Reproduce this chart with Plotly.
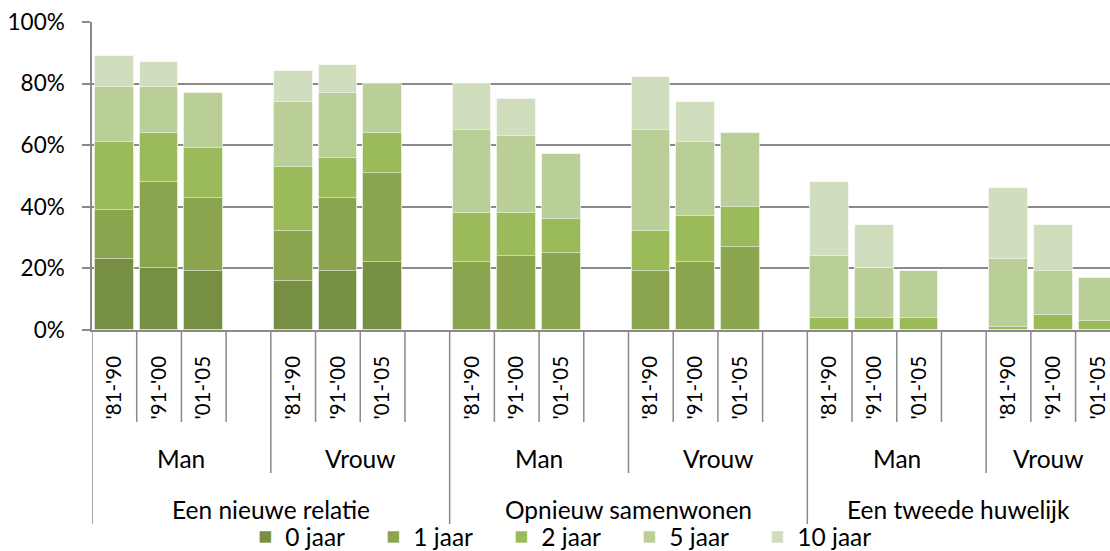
import plotly.graph_objects as go

# categorieen
groepen = ["Een nieuwe relatie", "Opnieuw samenwonen", "Een tweede huwelijk"]
geslacht = ["Man", "Vrouw"]
perioden = ["'81-'90", "'91-'00", "'01-'05"]

# cumulatieve percentages per bar (groep x geslacht x periode)
jaar0 = [23, 20, 19, 16, 19, 22,
         None, None, None, None, None, None,
         None, None, None, None, None, None]
jaar1 = [39, 48, 43, 32, 43, 51,
         22, 24, 25, 19, 22, 27,
         None, None, None, None, None, None]
jaar2 = [61, 64, 59, 53, 56, 64,
         38, 38, 36, 32, 37, 40,
         4, 4, 4, 1, 5, 3]
jaar5 = [79, 79, 77, 74, 77, 80,
         65, 63, 57, 65, 61, 64,
         24, 20, 19, 23, 19, 17]
jaar10 = [89, 87, None, 84, 86, None,
          80, 75, None, 82, 74, None,
          48, 34, None, 46, 34, None]

reeksen = [("10 jaar", jaar10, "#D1DEBE"),
           ("5 jaar", jaar5, "#BACE98"),
           ("2 jaar", jaar2, "#9BBA59"),
           ("1 jaar", jaar1, "#8AA54E"),
           ("0 jaar", jaar0, "#778F43")]

# elke geslacht-groep heeft 4 posities (3 perioden + 1 lege)
xpos, xlab = [], []
for g in range(len(groepen)):
    for s in range(len(geslacht)):
        for p in range(len(perioden)):
            xpos.append(g * 8 + s * 4 + p)
            xlab.append(perioden[p])

n_slots = len(groepen) * len(geslacht) * 4
xmin, xmax = -0.5, 22.27
FONT = "Lato, Calibri, sans-serif"
GRIJS = "#8a8a8a"

fig = go.Figure()
for naam, waarden, kleur in reeksen:
    fig.add_trace(go.Bar(x=xpos, y=waarden, name=naam, width=0.865,
                         marker=dict(color=kleur, line=dict(color="rgba(255,255,255,0.55)", width=1))))

def py(Y):
    return (330 - Y) / 308.0

shapes = []
for k in range(1, n_slots):
    b = k - 0.5
    if b > xmax:
        break
    if k % 8 == 0:
        y1 = py(524)
    elif k % 4 == 0:
        y1 = py(473)
    else:
        y1 = py(422)
    shapes.append(dict(type="line", xref="x", yref="paper", x0=b, x1=b, y0=0, y1=y1,
                       line=dict(color=GRIJS, width=1.5)))
shapes.append(dict(type="line", xref="x", yref="paper", x0=xmin, x1=xmin, y0=0, y1=py(524),
                   line=dict(color=GRIJS, width=1.5)))

annotations = []
for g, gn in enumerate(groepen):
    a = g * 8 - 0.5
    b = min(g * 8 + 7.5, xmax)
    annotations.append(dict(x=(a + b) / 2, y=py(510), xref="x", yref="paper", text=gn,
                            yanchor="middle", showarrow=False,
                            font=dict(size=24.5, color="black", family=FONT)))
    for s, sn in enumerate(geslacht):
        a = g * 8 + s * 4 - 0.5
        b = min(a + 4, xmax)
        annotations.append(dict(x=(a + b) / 2, y=py(458), xref="x", yref="paper", text=sn,
                                yanchor="middle", showarrow=False,
                                font=dict(size=24.5, color="black", family=FONT)))

fig.update_layout(
    width=1110, height=551,
    margin=dict(l=92, r=0, t=22, b=221),
    barmode="overlay",
    bargap=0,
    plot_bgcolor="white", paper_bgcolor="white",
    font=dict(family=FONT, size=24.5, color="black"),
    shapes=shapes,
    annotations=annotations,
    showlegend=True,
    legend=dict(orientation="h", traceorder="reversed", x=0.465, xanchor="center",
                yref="container", y=(551 - 537) / 551.0, yanchor="middle",
                font=dict(size=24.5), entrywidth=83,
                itemwidth=30, bgcolor="rgba(0,0,0,0)"),
    xaxis=dict(range=[xmin, xmax], tickvals=xpos, ticktext=xlab, tickangle=-90,
               ticks="", showgrid=False, zeroline=False, showline=True,
               linecolor=GRIJS, linewidth=1.5, ticklabelstandoff=16,
               tickfont=dict(size=20.5), automargin=False),
    yaxis=dict(range=[0, 100], dtick=20, ticksuffix="%", showgrid=True,
               gridcolor=GRIJS, gridwidth=1.5, zeroline=False, showline=True,
               linecolor=GRIJS, linewidth=1.5, ticks="outside", ticklen=8,
               tickcolor=GRIJS, tickwidth=1.5, ticklabelstandoff=13,
               tickfont=dict(size=22.5), automargin=False),
)

fig.write_html("out.html", config={"displayModeBar": False},
               post_script="document.body.style.margin='0';")
